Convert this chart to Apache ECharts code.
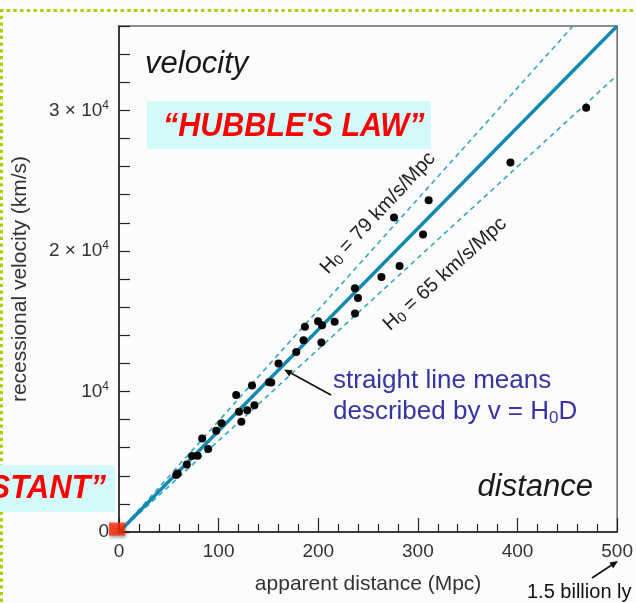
<!DOCTYPE html>
<html lang="en">
<head>
    <meta charset="UTF-8">
    <title>Hubble's law</title>
    <script src="https://cdn.jsdelivr.net/npm/echarts@6.0.0/dist/echarts.min.js"></script>
    <style>
        body { margin: 0; background: #fcfcfc; }
        #main { width: 636px; height: 603px; }
    </style>
</head>
<body>
<div id="main"></div>
<script>
    // galaxies: distance (Mpc) and recessional velocity (km/s)
    const distances = [57.4, 58.9, 68.1, 73.3, 78.8, 83.5, 89.5, 97.6, 102.9, 117.6,
        120.5, 122.8, 128.7, 133.5, 135.9, 150.6, 152.8, 160.1, 177.9, 185.2,
        186.6, 199.8, 203.8, 203.1, 216.4, 236.8, 239.9, 236.9, 263.4, 281.6,
        276.0, 305.2, 310.8, 392.9, 468.9];
    const velocities = [4050, 4170, 4800, 5400, 5420, 6650, 5900, 7210, 7730, 9740,
        8550, 7840, 8660, 10430, 9010, 10660, 10640, 11980, 12810, 13650,
        14610, 15000, 14710, 13480, 14950, 17340, 16650, 15550, 18150, 18930,
        22370, 21160, 23600, 26280, 30190];

    const hubbleFit = 72;
    const hubbleHigh = 79;
    const hubbleLow = 65;

    const xMax = 500;
    const yMax = 36000;
    const xTickLabels = ['0', '100', '200', '300', '400', '500'];
    const yTickValues = [0, 10000, 20000, 30000];
    const yTickLabels = ['0', '10^4', '2 × 10^4', '3 × 10^4'];

    const font = '"Liberation Sans", Arial, Helvetica, sans-serif';

    function lawLine(h) {
        return [[0, 0], [xMax, h * xMax]];
    }

    function yLabel(value) {
        let i = yTickValues.indexOf(value);
        if (i < 0) return '';
        let t = yTickLabels[i];
        if (t.indexOf('^') < 0) return '{b|' + t + '}';
        let parts = t.split('^');
        return '{b|' + parts[0] + '}{s|' + parts[1] + '}';
    }

    let myChart = echarts.init(document.getElementById('main'));

    let option = {
        backgroundColor: '#fcfcfc',
        animation: false,
        grid: {
            left: 119, right: 14, top: 26, bottom: 71,
            show: true, borderColor: '#666', borderWidth: 1.5, backgroundColor: '#fcfcfc'
        },
        xAxis: {
            type: 'value', min: 0, max: xMax, interval: 100,
            name: 'apparent distance (Mpc)', nameLocation: 'middle', nameGap: 42,
            nameTextStyle: {fontFamily: font, fontSize: 21, color: '#333'},
            axisLine: {lineStyle: {color: '#222', width: 1.5}},
            axisTick: {inside: true, length: 14, lineStyle: {color: '#222', width: 1.2}},
            minorTick: {show: true, splitNumber: 5, length: 8, lineStyle: {color: '#222', width: 1.2}},
            splitLine: {show: false},
            axisLabel: {
                fontFamily: font, fontSize: 19, color: '#333', margin: 10,
                formatter: function (v) { return xTickLabels[Math.round(v / 100)] || ''; }
            }
        },
        yAxis: {
            type: 'value', min: 0, max: yMax, interval: 2000,
            name: 'recessional velocity (km/s)', nameLocation: 'middle', nameGap: 88,
            nameTextStyle: {fontFamily: font, fontSize: 21, color: '#333'},
            axisLine: {lineStyle: {color: '#222', width: 1.5}},
            axisTick: {inside: true, length: 11, lineStyle: {color: '#222', width: 1.2}},
            splitLine: {show: false},
            axisLabel: {
                fontFamily: font, color: '#333', margin: 10,
                formatter: yLabel,
                rich: {
                    b: {fontFamily: font, fontSize: 19, color: '#333', lineHeight: 22},
                    s: {fontFamily: font, fontSize: 12, color: '#333', verticalAlign: 'top', lineHeight: 12}
                }
            }
        },
        series: [
            {
                type: 'line', data: lawLine(hubbleHigh), symbol: 'none', clip: true,
                lineStyle: {color: '#36a7c6', width: 1.6, type: [5, 4]}, z: 2
            },
            {
                type: 'line', data: lawLine(hubbleLow), symbol: 'none', clip: true,
                lineStyle: {color: '#36a7c6', width: 1.6, type: [5, 4]}, z: 2
            },
            {
                type: 'line', data: lawLine(hubbleFit), symbol: 'none', clip: true,
                lineStyle: {color: '#118ab2', width: 3.4}, z: 3
            },
            {
                type: 'scatter', symbolSize: 8, z: 4,
                itemStyle: {color: '#050505', opacity: 1},
                data: distances.map(function (d, i) { return [d, velocities[i]]; })
            },
            {
                type: 'scatter', symbol: 'rect', symbolSize: [16, 13], symbolOffset: [-2, -3],
                clip: false, z: 10, silent: true,
                itemStyle: {color: '#ff2400', shadowColor: 'rgba(0,0,0,0.45)', shadowBlur: 3, shadowOffsetX: 1, shadowOffsetY: 2},
                data: [[0, 0]]
            }
        ],
        graphic: [
            // dotted slide frame
            {type: 'line', shape: {x1: 0, y1: 10.5, x2: 636, y2: 10.5},
                style: {stroke: '#a8cf00', lineWidth: 3, lineDash: [3.3, 3.4]}},
            {type: 'line', shape: {x1: 1.5, y1: 9, x2: 1.5, y2: 603},
                style: {stroke: '#a8cf00', lineWidth: 3, lineDash: [3.3, 3.4]}},
            // captions
            {type: 'text', x: 145, y: 64, z: 100, style: {
                text: 'velocity', font: 'italic 31px ' + font, fill: '#1a1a1a',
                align: 'left', verticalAlign: 'middle', textAlign: 'left', textVerticalAlign: 'middle',
                shadowColor: 'rgba(0,0,0,0.35)', shadowBlur: 3, shadowOffsetX: 2, shadowOffsetY: 2}},
            {type: 'text', x: 593, y: 487, z: 100, style: {
                text: 'distance', font: 'italic 31px ' + font, fill: '#1a1a1a',
                align: 'right', verticalAlign: 'middle', textAlign: 'right', textVerticalAlign: 'middle',
                shadowColor: 'rgba(0,0,0,0.35)', shadowBlur: 3, shadowOffsetX: 2, shadowOffsetY: 2}},
            {type: 'rect', shape: {x: 147, y: 101, width: 284, height: 48}, z: 90, style: {fill: '#d3fbfc'}},
            {type: 'text', x: 163, y: 127, scaleY: 1.1, z: 100, style: {
                text: '“HUBBLE\'S LAW”', font: 'italic bold 30.5px ' + font, fill: '#ff0000',
                align: 'left', verticalAlign: 'middle', textAlign: 'left', textVerticalAlign: 'middle',
                shadowColor: 'rgba(40,0,0,0.85)', shadowBlur: 2, shadowOffsetX: 2, shadowOffsetY: 2}},
            {type: 'rect', shape: {x: 0, y: 465, width: 115, height: 47}, z: 90, style: {fill: '#d3fbfc'}},
            {type: 'text', x: 106, y: 489, scaleY: 1.1, z: 100, style: {
                text: 'STANT”', font: 'italic bold 31px ' + font, fill: '#ff0000',
                align: 'right', verticalAlign: 'middle', textAlign: 'right', textVerticalAlign: 'middle',
                shadowColor: 'rgba(40,0,0,0.85)', shadowBlur: 2, shadowOffsetX: 2, shadowOffsetY: 2}},
            // line labels
            {type: 'text', x: 378, y: 213, rotation: 0.82, z: 100, style: {
                text: '{n|H}{s|0}{n| = 79 km/s/Mpc}',
                align: 'center', verticalAlign: 'middle', textAlign: 'center', textVerticalAlign: 'middle',
                rich: {
                    n: {fontFamily: font, fontSize: 20, fill: '#222', color: '#222'},
                    s: {fontFamily: font, fontSize: 14, fill: '#222', color: '#222', padding: [8, 0, 0, 0]}
                }}},
            {type: 'text', x: 445, y: 274, rotation: 0.735, z: 100, style: {
                text: '{n|H}{s|0}{n| = 65 km/s/Mpc}',
                align: 'center', verticalAlign: 'middle', textAlign: 'center', textVerticalAlign: 'middle',
                rich: {
                    n: {fontFamily: font, fontSize: 20, fill: '#222', color: '#222'},
                    s: {fontFamily: font, fontSize: 14, fill: '#222', color: '#222', padding: [8, 0, 0, 0]}
                }}},
            // annotation
            {type: 'text', x: 333, y: 381, z: 100, style: {
                text: 'straight line means', font: '26px ' + font, fill: '#3535a5',
                align: 'left', verticalAlign: 'middle', textAlign: 'left', textVerticalAlign: 'middle'}},
            {type: 'text', x: 333, y: 412, z: 100, style: {
                text: '{n|described by v = H}{s|0}{n|D}',
                align: 'left', verticalAlign: 'middle', textAlign: 'left', textVerticalAlign: 'middle',
                rich: {
                    n: {fontFamily: font, fontSize: 26, fill: '#3535a5', color: '#3535a5'},
                    s: {fontFamily: font, fontSize: 17, fill: '#3535a5', color: '#3535a5', padding: [12, 0, 0, 0]}
                }}},
            {type: 'line', z: 100, shape: {x1: 331, y1: 395, x2: 288, y2: 371.5},
                style: {stroke: '#111', lineWidth: 1.6}},
            {type: 'polygon', z: 100, shape: {points: [[284, 369.5], [292.7, 370.2], [289.3, 376.4]]},
                style: {fill: '#111'}},
            {type: 'text', x: 527, y: 592, z: 100, style: {
                text: '1.5 billion ly', font: '20px ' + font, fill: '#111',
                align: 'left', verticalAlign: 'middle', textAlign: 'left', textVerticalAlign: 'middle'}},
            {type: 'line', z: 100, shape: {x1: 592, y1: 578, x2: 614, y2: 563.5},
                style: {stroke: '#111', lineWidth: 1.6}},
            {type: 'polygon', z: 100, shape: {points: [[618, 561], [613.2, 568.3], [609.4, 562.5]]},
                style: {fill: '#111'}}
        ]
    };
    myChart.setOption(option);
</script>
</body>
</html>
